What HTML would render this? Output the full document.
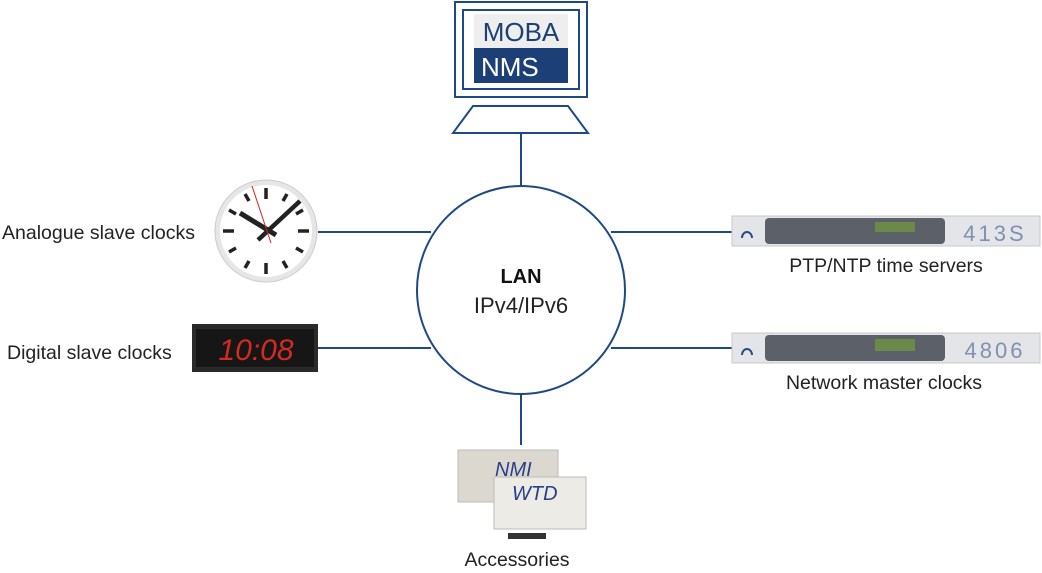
<!DOCTYPE html>
<html><head><meta charset="utf-8"><style>
html,body{margin:0;padding:0;background:#fff;}
svg{display:block;font-family:"Liberation Sans",sans-serif;}
</style></head><body>
<svg width="1042" height="573" viewBox="0 0 1042 573" xmlns="http://www.w3.org/2000/svg">
<g stroke="#1d4a86" stroke-width="2" fill="none">
<line x1="521" y1="133" x2="521" y2="186"/>
<line x1="521" y1="394" x2="521" y2="445"/>
<line x1="318" y1="232" x2="431" y2="232"/>
<line x1="318" y1="348" x2="431" y2="348"/>
<line x1="611" y1="232" x2="732" y2="232"/>
<line x1="611" y1="348" x2="732" y2="348"/>
<circle cx="521" cy="290" r="104" fill="#fff"/>
<rect x="455" y="2" width="132" height="95" fill="#fff"/>
<rect x="463" y="10" width="116" height="79"/>
<polygon points="473,106 568,106 588,133 453,133" fill="#fff"/>
</g>
<rect x="474" y="14" width="94" height="34" fill="#eeeeee"/>
<rect x="474" y="48" width="94" height="35" fill="#1d3f78"/>
<text x="521" y="41" font-size="26" fill="#1d3f78" text-anchor="middle">MOBA</text>
<text x="481" y="76" font-size="26" fill="#fff">NMS</text>
<text x="521" y="283" font-size="20" font-weight="bold" text-anchor="middle" fill="#111">LAN</text>
<text x="521" y="313" font-size="22" text-anchor="middle" fill="#222">IPv4/IPv6</text>
<circle cx="266" cy="231" r="51" fill="#e6e6e6" stroke="#ccc"/>
<circle cx="266" cy="231" r="46" fill="#fff"/>
<g stroke="#222" stroke-width="3.5">
<line x1="266" y1="188" x2="266" y2="199"/><line x1="266" y1="263" x2="266" y2="274"/>
<line x1="223" y1="231" x2="234" y2="231"/><line x1="298" y1="231" x2="309" y2="231"/>
<line x1="287" y1="194" x2="283" y2="201"/><line x1="303" y1="210" x2="296" y2="214"/>
<line x1="303" y1="252" x2="296" y2="248"/><line x1="287" y1="268" x2="283" y2="261"/>
<line x1="245" y1="194" x2="249" y2="201"/><line x1="229" y1="210" x2="236" y2="214"/>
<line x1="229" y1="252" x2="236" y2="248"/><line x1="245" y1="268" x2="249" y2="261"/>
</g>
<g stroke="#222">
<line x1="240" y1="213" x2="276" y2="235" stroke-width="5"/>
<line x1="258" y1="240" x2="300" y2="201" stroke-width="4.5"/>
</g>
<line x1="252" y1="186" x2="271" y2="243" stroke="#d22" stroke-width="1"/>
<rect x="192" y="324" width="126" height="48" fill="#2a2a2a"/>
<rect x="196" y="329" width="118" height="38" fill="#161616"/>
<text x="256" y="360" font-size="30" fill="#d42a20" text-anchor="middle" font-family="Liberation Sans,sans-serif" font-style="italic">10:08</text>
<g>
<rect x="732" y="216" width="308" height="30" fill="#e4e5e8" stroke="#c8c8cc"/>
<rect x="765" y="218" width="180" height="26" rx="4" fill="#5c6068"/>
<rect x="875" y="222" width="40" height="10" fill="#6b8a4a"/>
<text x="995" y="241" font-size="22" fill="#8090b0" text-anchor="middle" letter-spacing="3">413S</text>
<path d="M742 238 a5 6 0 0 1 10 0" stroke="#2a4a80" stroke-width="2" fill="none"/>
<rect x="732" y="333" width="308" height="30" fill="#e4e5e8" stroke="#c8c8cc"/>
<rect x="765" y="335" width="180" height="26" rx="4" fill="#5c6068"/>
<rect x="875" y="339" width="40" height="12" fill="#6b8a4a"/>
<text x="995" y="358" font-size="22" fill="#8090b0" text-anchor="middle" letter-spacing="3">4806</text>
<path d="M742 355 a5 6 0 0 1 10 0" stroke="#2a4a80" stroke-width="2" fill="none"/>
</g>
<rect x="458" y="450" width="100" height="52" fill="#ddd8cf" stroke="#bbb"/>
<text x="495" y="476" font-size="20" fill="#2a3f8a" font-style="italic">NMI</text>
<rect x="494" y="477" width="92" height="52" fill="#ecebe5" stroke="#bbb"/>
<text x="512" y="500" font-size="20" fill="#2a3f8a" font-style="italic">WTD</text>
<rect x="508" y="533" width="38" height="6" fill="#333"/>
<g font-size="19.5" fill="#222">
<text x="2" y="239">Analogue slave clocks</text>
<text x="7" y="359">Digital slave clocks</text>
<text x="886" y="272" text-anchor="middle">PTP/NTP time servers</text>
<text x="884" y="389" text-anchor="middle">Network master clocks</text>
<text x="517" y="566" text-anchor="middle">Accessories</text>
</g>
</svg>
</body></html>
